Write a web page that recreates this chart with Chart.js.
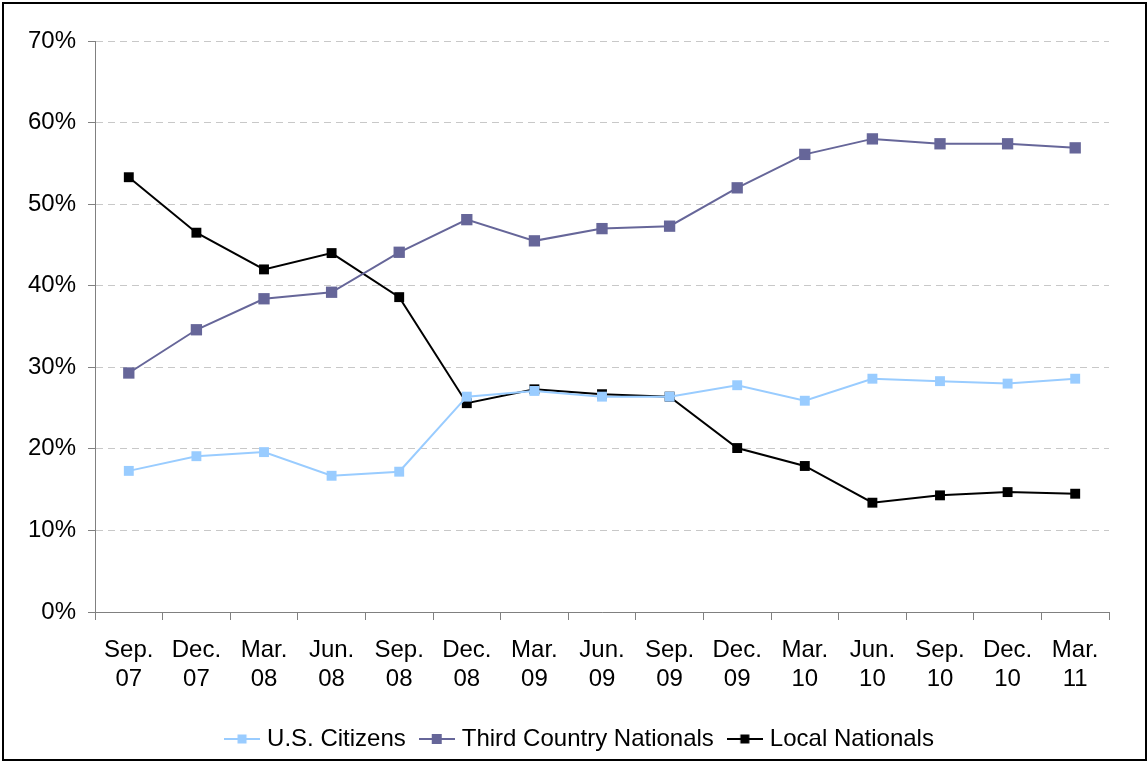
<!DOCTYPE html>
<html>
<head>
<meta charset="utf-8">
<script src="https://cdn.jsdelivr.net/npm/chart.js@4/dist/chart.umd.min.js"></script>
<style>
  html, body { margin: 0; padding: 0; background: #fff; }
  #wrap { width: 1148px; height: 761px; position: relative; }
</style>
</head>
<body>
<div id="wrap"><canvas id="chart" width="1148" height="761"></canvas></div>
<script>
// quarter labels (two lines each)
const quarters = [
    ['Sep.', '07'], ['Dec.', '07'], ['Mar.', '08'], ['Jun.', '08'], ['Sep.', '08'],
    ['Dec.', '08'], ['Mar.', '09'], ['Jun.', '09'], ['Sep.', '09'], ['Dec.', '09'],
    ['Mar.', '10'], ['Jun.', '10'], ['Sep.', '10'], ['Dec.', '10'], ['Mar.', '11']
];

// percent of contractor workforce
const usCitizens = [17.3, 19.1, 19.6, 16.7, 17.2, 26.4, 27.1, 26.4, 26.4, 27.8, 25.9, 28.6, 28.3, 28.0, 28.6];
const thirdCountry = [29.3, 34.6, 38.4, 39.2, 44.1, 48.1, 45.5, 47.0, 47.3, 52.0, 56.1, 58.0, 57.4, 57.4, 56.9];
const localNationals = [53.3, 46.5, 42.0, 44.0, 38.6, 25.6, 27.3, 26.7, 26.4, 20.1, 17.9, 13.4, 14.3, 14.7, 14.5];

const yTicks = [0, 10, 20, 30, 40, 50, 60, 70];

const FONT = "'Liberation Sans', Arial, sans-serif";

// little line-with-square icons for the legend
function legendIcon(color, size) {
    const c = document.createElement('canvas');
    c.width = 36;
    c.height = 14;
    const g = c.getContext('2d');
    g.strokeStyle = color;
    g.lineWidth = 2;
    g.beginPath();
    g.moveTo(0, 7);
    g.lineTo(36, 7);
    g.stroke();
    g.fillStyle = color;
    g.fillRect(18 - size / 2, 7 - size / 2, size, size);
    return c;
}

const frame = {
    id: 'frame',
    afterLayout(chart) {
        // legend sits a bit right of centre in the original
        chart.legend.left += 27;
        chart.legend.right += 27;
    },
    beforeDraw(chart) {
        const g = chart.ctx;
        g.save();
        g.fillStyle = '#fff';
        g.fillRect(0, 0, chart.width, chart.height);
        g.strokeStyle = '#000';
        g.lineWidth = 2;
        g.strokeRect(3, 3, chart.width - 5, chart.height - 4);
        g.restore();
    }
};

const ctx = document.getElementById('chart').getContext('2d');

new Chart(ctx, {
    type: 'line',
    data: {
        labels: quarters,
        datasets: [
            {
                label: 'U.S. Citizens',
                data: usCitizens,
                borderColor: '#99CCFF',
                backgroundColor: '#99CCFF',
                borderWidth: 2,
                pointStyle: 'rect',
                pointRadius: 7,
                pointBorderWidth: 0,
                tension: 0,
                legendIcon: legendIcon('#99CCFF', 9)
            },
            {
                label: 'Third Country Nationals',
                data: thirdCountry,
                borderColor: '#666699',
                backgroundColor: '#666699',
                borderWidth: 2,
                pointStyle: 'rect',
                pointRadius: 8,
                pointBorderWidth: 0,
                tension: 0,
                legendIcon: legendIcon('#666699', 10)
            },
            {
                label: 'Local Nationals',
                data: localNationals,
                borderColor: '#000000',
                backgroundColor: '#000000',
                borderWidth: 2,
                pointStyle: 'rect',
                pointRadius: 7,
                pointBorderWidth: 0,
                tension: 0,
                legendIcon: legendIcon('#000000', 9)
            }
        ]
    },
    options: {
        responsive: false,
        animation: false,
        layout: { padding: { top: 41, right: 39, left: 0, bottom: 0 } },
        plugins: {
            tooltip: { enabled: false },
            legend: {
                position: 'bottom',
                labels: {
                    color: '#000',
                    font: { family: FONT, size: 24 },
                    usePointStyle: true,
                    pointStyleWidth: 26,
                    boxHeight: 14,
                    padding: 18,
                    generateLabels(chart) {
                        return chart.data.datasets.map((ds, i) => ({
                            text: ds.label,
                            pointStyle: ds.legendIcon,
                            fillStyle: ds.borderColor,
                            strokeStyle: ds.borderColor,
                            lineWidth: 0,
                            fontColor: '#000',
                            hidden: false,
                            datasetIndex: i
                        }));
                    }
                }
            }
        },
        scales: {
            x: {
                offset: true,
                grid: {
                    offset: true,
                    drawOnChartArea: false,
                    drawTicks: true,
                    tickLength: 8,
                    tickColor: '#808080'
                },
                border: { color: '#808080', width: 1 },
                ticks: {
                    color: '#000',
                    font: { family: FONT, size: 24, lineHeight: 1.2 },
                    padding: 16,
                    maxRotation: 0,
                    autoSkip: false
                },
                afterFit(scale) { scale.height = 97; }
            },
            y: {
                min: 0,
                max: 70,
                afterBuildTicks(scale) {
                    scale.ticks = yTicks.map(v => ({ value: v }));
                },
                grid: {
                    color: '#c8c8c8',
                    tickColor: '#808080',
                    tickLength: 7,
                    tickBorderDash: [],
                    lineWidth: 1
                },
                border: { color: '#808080', width: 1, dash: [7, 5] },
                ticks: {
                    color: '#000',
                    font: { family: FONT, size: 24 },
                    padding: 12,
                    callback: v => v + '%'
                },
                afterFit(scale) { scale.width = 95; }
            }
        }
    },
    plugins: [frame]
});
</script>
</body>
</html>
